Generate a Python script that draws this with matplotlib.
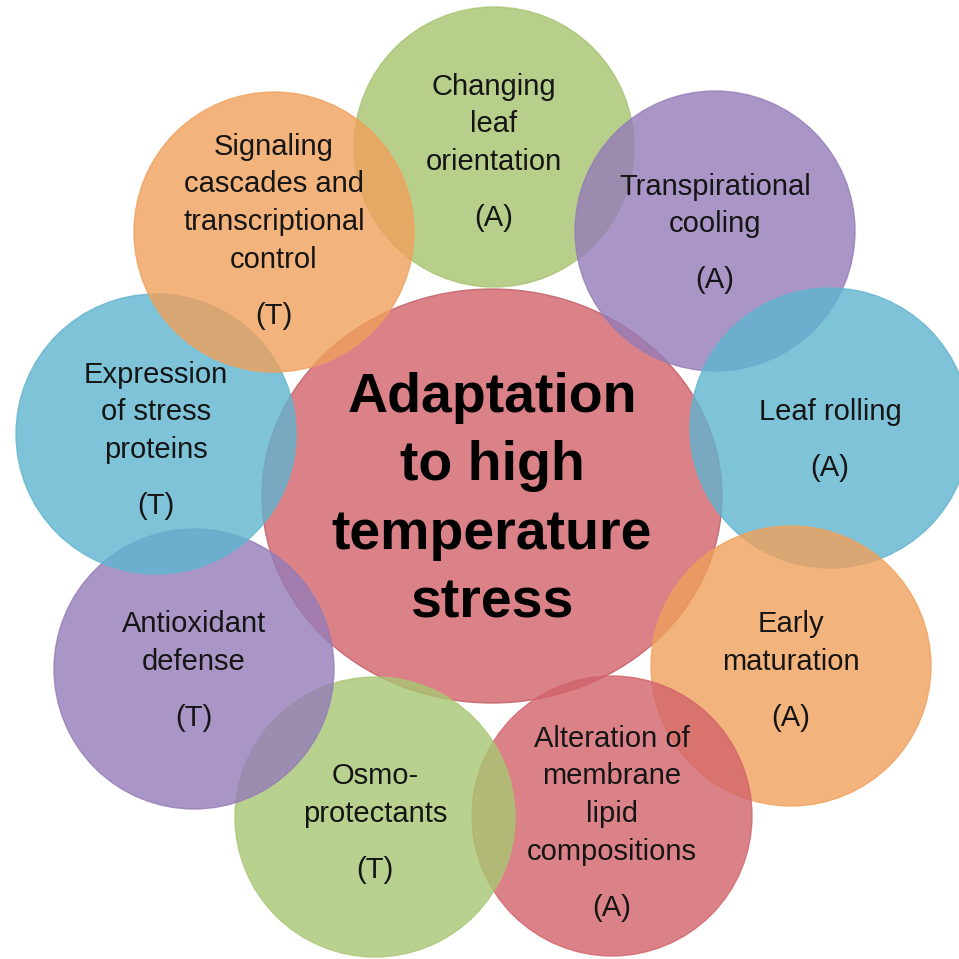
"""
Cycle diagram: adaptation to high temperature stress
"""

# Imports
import matplotlib
matplotlib.use('Agg')
import matplotlib.pyplot as plt
from matplotlib.patches import Circle, Ellipse

# Labels of the outer circles, clockwise from the top
labels = [
    ['Changing', 'leaf', 'orientation'],
    ['Transpirational', 'cooling'],
    ['Leaf rolling'],
    ['Early', 'maturation'],
    ['Alteration of', 'membrane', 'lipid', 'compositions'],
    ['Osmo-', 'protectants'],
    ['Antioxidant', 'defense'],
    ['Expression', 'of stress', 'proteins'],
    ['Signaling', 'cascades and', 'transcriptional', 'control'],
]
tags = ['(A)', '(A)', '(A)', '(A)', '(A)', '(T)', '(T)', '(T)', '(T)']
title_lines = ['Adaptation', 'to high', 'temperature', 'stress']

# Layout (pixels, y down)
circle_x = [494, 715, 830, 791, 612, 375, 194, 156, 274]
circle_y = [147, 231, 428, 666, 816, 817, 669, 434, 232]
circle_r = 140
first_base = [95, 195, 420, 632, 747, 784, 632, 383, 155]
colors = ['#a6c36f', '#947cb8', '#5fb4cf', '#f0a05b', '#d2636a',
          '#a8c672', '#947cb8', '#5fb4cf', '#f0a05b']
line_step = 37.5
tag_gap = 56

fig = plt.figure(figsize=(9.59, 9.59), dpi=100)
ax = fig.add_axes([0, 0, 1, 1])
ax.set_xlim(0, 959)
ax.set_ylim(959, 0)
ax.axis('off')

# Centre ellipse
ax.add_patch(Ellipse((492, 496), 460, 414, facecolor='#d2636a', alpha=0.8,
                     edgecolor='#c05a62', lw=1, zorder=1))
for i, line in enumerate(title_lines):
    ax.text(492, 412 + i * 68.5, line, ha='center', va='baseline',
            family='Liberation Sans', fontweight='bold', fontsize=40,
            color='black', zorder=5)

# Outer circles
for k in range(len(labels)):
    ax.add_patch(Circle((circle_x[k], circle_y[k]), circle_r,
                        facecolor=colors[k], alpha=0.8,
                        edgecolor=colors[k], lw=1, zorder=2))
    y = first_base[k]
    for line in labels[k]:
        ax.text(circle_x[k], y, line, ha='center', va='baseline',
                family='Liberation Sans', fontsize=21, color='#151515', zorder=5)
        y += line_step
    ax.text(circle_x[k], y - line_step + tag_gap, tags[k], ha='center',
            va='baseline', family='Liberation Sans', fontsize=21,
            color='#151515', zorder=5)

plt.savefig('out.png', dpi=100)
plt.close()
